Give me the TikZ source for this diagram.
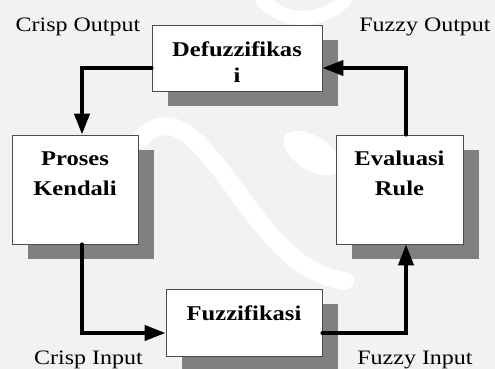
\documentclass[tikz,border=0pt]{standalone}
\usepackage{fontspec}
\setmainfont{Liberation Serif}[FakeStretch=1.17]
\usepackage{tikz}
\usetikzlibrary{positioning,arrows.meta,shadows}

\definecolor{bggray}{RGB}{242,242,242}
\definecolor{shadowgray}{RGB}{128,128,128}

\begin{document}
\begin{tikzpicture}[
  x=1pt, y=1pt,
  lbl/.style={font=\fontsize{20.5}{24}\selectfont, inner sep=0pt, anchor=base},
  blok/.style={rectangle, draw=black!70, line width=0.8pt, fill=white,
    drop shadow={shadow xshift=16pt, shadow yshift=-15pt, fill=shadowgray, opacity=1},
    inner sep=0pt},
  isi/.style={font=\bfseries\fontsize{21}{26}\selectfont, align=center, inner sep=0pt, anchor=north, yshift=-16.5pt},
  flow/.style={draw=black, line width=4pt, line cap=round, -{Triangle[length=21pt,width=15pt]}},
  wm/.style={draw=white, line width=18pt, line cap=round}
]

% background with faint watermark
\fill[bggray] (0,0) rectangle (495,369);
\useasboundingbox (0,0) rectangle (495,369);
\draw[wm] (140,230) .. controls (172,262) and (198,230) .. (235,180)
  .. controls (272,128) and (300,95) .. (345,88);
\fill[white, rotate around={-32:(312,216)}] (312,216) ellipse (32 and 17);
\draw[wm, line width=14pt] (262,369) .. controls (285,345) and (320,345) .. (345,369);

% blocks
\node[blok, minimum width=170pt, minimum height=66pt,
  label={[isi]north:Defuzzifikas\\i}] (defuz) at (237, 311) {};
\node[blok, minimum width=126pt, minimum height=109pt,
  label={[isi]north:Proses\\[4pt]Kendali}] (proses) at (75, 179.5) {};
\node[blok, minimum width=127pt, minimum height=109pt,
  label={[isi]north:Evaluasi\\[4pt]Rule}] (evalr) at (399.5, 179.5) {};
\node[blok, minimum width=156pt, minimum height=67pt,
  label={[isi]north:Fuzzifikasi}] (fuzz) at (244, 46.5) {};

% loop
\draw[flow] ([yshift=-10pt]defuz.west) -| ([xshift=7pt]proses.north);
\draw[flow] ([xshift=7pt]proses.south) |- ([yshift=-10.5pt]fuzz.west);
\draw[flow] ([yshift=-10.5pt]fuzz.east) -| ([xshift=6.5pt]evalr.south);
\draw[flow] ([xshift=6.5pt]evalr.north) |- ([yshift=-10pt]defuz.east);

% signal names
\node[lbl] (crispout) at (78, 337) {Crisp Output};
\node[lbl] (fuzzyout) at (425, 337) {Fuzzy Output};
\node[lbl] (crispin) at (88.5, 4) {Crisp Input};
\node[lbl] (fuzzyin) at (415, 4) {Fuzzy Input};

\end{tikzpicture}
\end{document}
